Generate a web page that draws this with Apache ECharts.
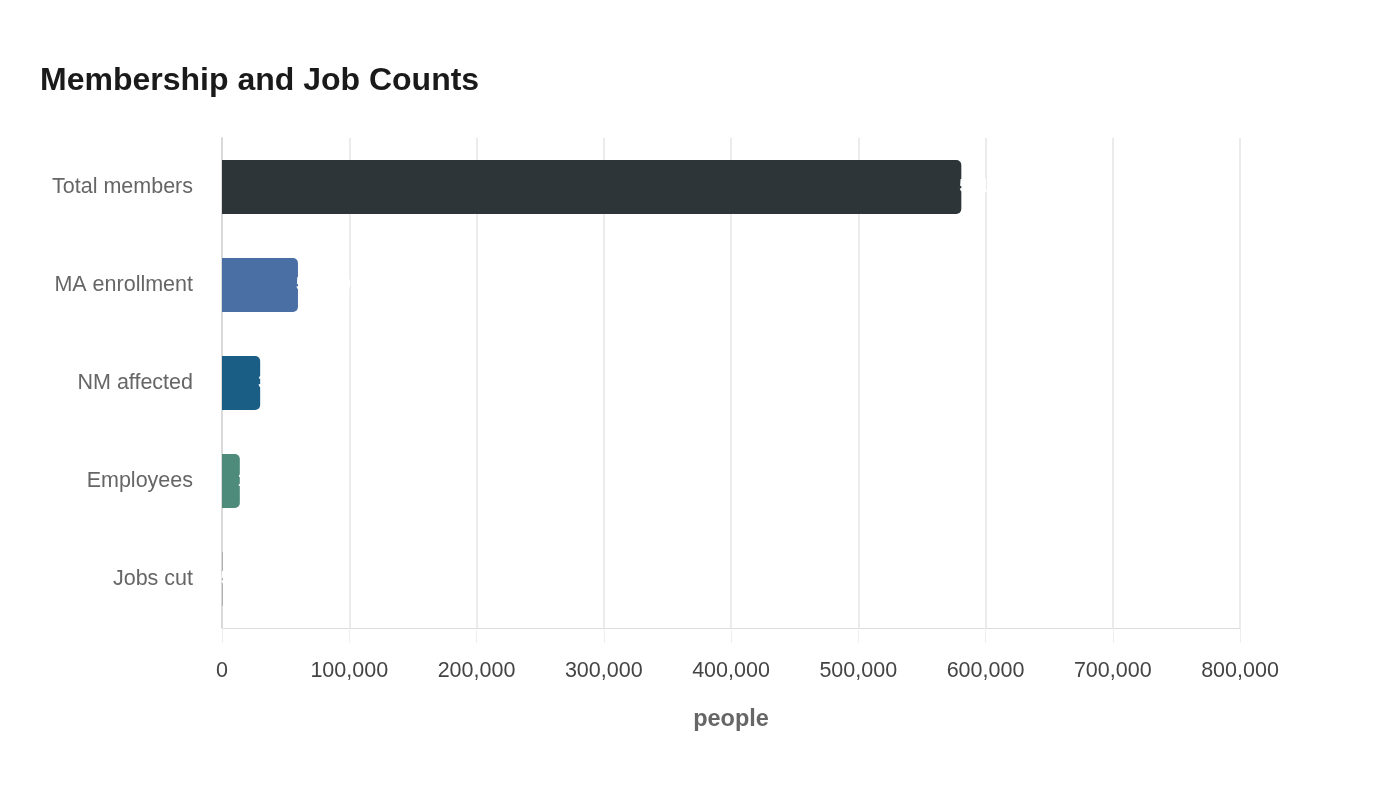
<!DOCTYPE html>
<html>
<head>
<meta charset="utf-8">
<title>Membership and Job Counts</title>
<script src="https://cdn.jsdelivr.net/npm/echarts@6/dist/echarts.min.js"></script>
<style>
  html, body { margin: 0; padding: 0; background: #ffffff; }
  #main { width: 1400px; height: 800px; }
</style>
</head>
<body>
<div id="main"></div>
<script>
// categories, top to bottom
var categories = ['Total members', 'MA enrollment', 'NM affected', 'Employees', 'Jobs cut']
var values = [581000, 59700, 30000, 14000, 500]
var barColors = ['#2d3538', '#4a6fa5', '#1a5e85', '#4e8b7a', '#9a9a9a']
var xTicks = [0, 100000, 200000, 300000, 400000, 500000, 600000, 700000, 800000]

var chart = echarts.init(document.getElementById('main'))

var option = {
  backgroundColor: '#ffffff',
  textStyle: { fontFamily: 'Liberation Sans, Arial, sans-serif' },
  title: {
    text: 'Membership and Job Counts',
    left: 35,
    top: 60,
    textStyle: { fontSize: 32, fontWeight: 'bold', color: '#1a1a1a' }
  },
  grid: {
    left: 222,
    right: 160,
    top: 138,
    bottom: 172
  },
  xAxis: {
    type: 'value',
    min: xTicks[0],
    max: xTicks[xTicks.length - 1],
    interval: 100000,
    name: 'people',
    nameLocation: 'middle',
    nameGap: 80,
    nameTextStyle: { fontSize: 23.5, fontWeight: 'bold', color: '#666666' },
    axisLine: { show: true, lineStyle: { color: '#dddddd', width: 1 } },
    axisTick: { show: true, length: 15, lineStyle: { color: '#eeeeee' } },
    axisLabel: {
      fontSize: 21.5,
      color: '#444444',
      margin: 32,
      formatter: function (v) { return v.toLocaleString('en-US') }
    },
    splitLine: { show: true, lineStyle: { color: '#ebebeb', width: 2 } }
  },
  yAxis: {
    type: 'category',
    data: categories,
    inverse: true,
    axisLine: { show: true, lineStyle: { color: '#d9d9d9', width: 2 } },
    axisTick: { show: false },
    axisLabel: { fontSize: 21.5, color: '#666666', margin: 29, padding: [4, 0, 0, 0] }
  },
  series: [
    {
      type: 'bar',
      barCategoryGap: '45%',
      data: values.map(function (v, i) {
        return { value: v, itemStyle: { color: barColors[i] } }
      }),
      itemStyle: { borderRadius: [0, 5, 5, 0] },
      label: {
        show: true,
        position: 'right',
        distance: -2,
        color: '#ffffff',
        fontSize: 18,
        fontWeight: 'bold',
        formatter: function (p) { return p.value.toLocaleString('en-US') }
      }
    }
  ]
}

chart.setOption(option)
</script>
</body>
</html>
